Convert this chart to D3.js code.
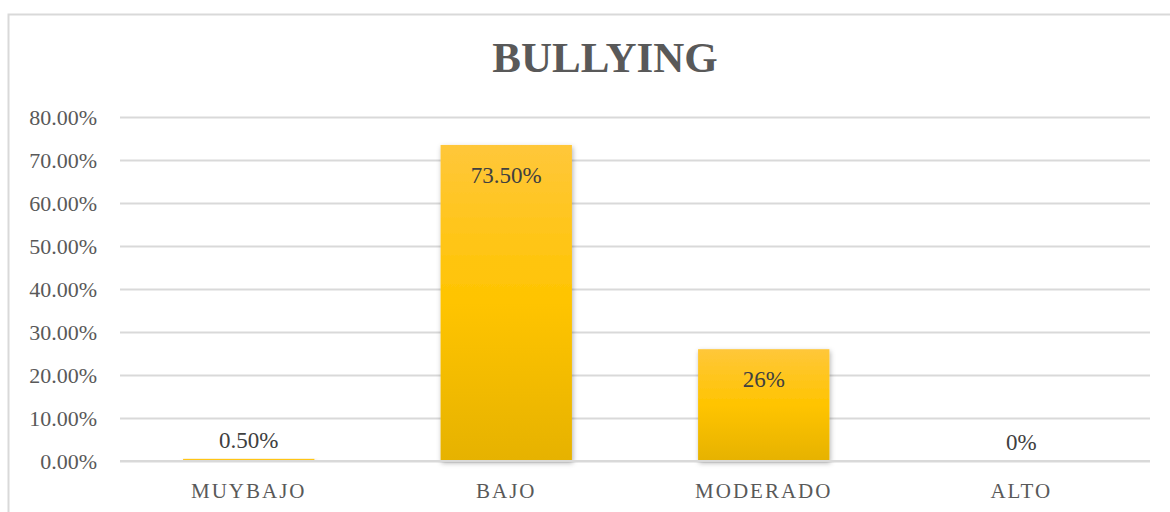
<!DOCTYPE html>
<html>
<head>
<meta charset="utf-8">
<script src="https://cdn.jsdelivr.net/npm/d3@7"></script>
<style>
  body { margin: 0; background: #fff; }
  svg { display: block; font-family: "Liberation Serif", "Times New Roman", serif; }
</style>
</head>
<body>
<svg width="1170" height="512"></svg>
<script>
    const categories = ['MUYBAJO', 'BAJO', 'MODERADO', 'ALTO']
    const values = [0.5, 73.5, 26, 0]
    const valueLabels = ['0.50%', '73.50%', '26%', '0%']
    const yTicks = [0, 10, 20, 30, 40, 50, 60, 70, 80]
    const title = 'BULLYING'

    const svg = d3.select('svg')
    const plotLeft = 120, plotRight = 1150, plotTop = 117, plotBottom = 461

    xs = d3.scaleBand().domain(categories).range([plotLeft, plotRight]).paddingInner(0.49).paddingOuter(0.245)
    ys = d3.scaleLinear().domain([0, 80]).range([plotBottom, plotTop])

    // outer frame
    svg.append('rect')
      .attr('x', 8.5).attr('y', 14.5).attr('width', 1175).attr('height', 520)
      .attr('fill', 'none').attr('stroke', '#d9d9d9').attr('stroke-width', 2)

    const defs = svg.append('defs')
    const grad = defs.append('linearGradient').attr('id', 'barFill')
      .attr('x1', 0).attr('y1', 0).attr('x2', 0).attr('y2', 1)
    grad.append('stop').attr('offset', '0%').attr('stop-color', '#ffc73a')
    grad.append('stop').attr('offset', '50%').attr('stop-color', '#ffc400')
    grad.append('stop').attr('offset', '100%').attr('stop-color', '#e6b200')
    const shadow = defs.append('filter').attr('id', 'shadow')
      .attr('x', '-20%').attr('y', '-20%').attr('width', '140%').attr('height', '140%')
    shadow.append('feDropShadow').attr('dx', 1).attr('dy', 2).attr('stdDeviation', 2.5)
      .attr('flood-color', '#000').attr('flood-opacity', 0.3)

    svg.append('text')
      .attr('x', 605).attr('y', 72)
      .attr('text-anchor', 'middle')
      .attr('font-size', 43).attr('font-weight', 'bold')
      .attr('fill', '#595959')
      .text(title)

    // y axis with gridlines
    const yAxis = svg.append('g').attr('transform', 'translate(' + plotLeft + ',0)')
      .call(d3.axisLeft(ys).tickValues(yTicks).tickSize(-(plotRight - plotLeft)).tickPadding(23)
        .tickFormat(function(d) {return d.toFixed(2) + '%'}))
    yAxis.select('.domain').remove()
    yAxis.selectAll('line').attr('stroke', '#d9d9d9').attr('stroke-width', 2)
    yAxis.selectAll('text').attr('font-size', 22).attr('fill', '#595959')
      .attr('font-family', '"Liberation Serif", serif')

    svg.append('g').selectAll('rect').data(values).enter().append('rect')
      .attr('x', function(d, i) {return xs(categories[i])})
      .attr('y', function(d) {return ys(d)})
      .attr('width', xs.bandwidth())
      .attr('height', function(d) {return plotBottom - ys(d)})
      .attr('fill', 'url(#barFill)')
      .attr('filter', 'url(#shadow)')

    // baseline
    svg.append('line')
      .attr('x1', plotLeft).attr('x2', plotRight).attr('y1', plotBottom).attr('y2', plotBottom)
      .attr('stroke', '#d9d9d9').attr('stroke-width', 2)

    svg.append('g').selectAll('text').data(values).enter().append('text')
      .attr('x', function(d, i) {return xs(categories[i]) + xs.bandwidth() / 2})
      .attr('y', function(d) {return plotBottom - ys(d) > 40 ? ys(d) + 38 : ys(d) - 11})
      .attr('text-anchor', 'middle')
      .attr('font-size', 23)
      .attr('fill', '#404040')
      .text(function(d, i) {return valueLabels[i]})

    // x axis labels
    const xAxis = svg.append('g').attr('transform', 'translate(0,' + plotBottom + ')')
      .call(d3.axisBottom(xs).tickSize(0).tickPadding(22))
    xAxis.select('.domain').remove()
    xAxis.selectAll('text').attr('font-size', 21).attr('fill', '#595959')
      .attr('font-family', '"Liberation Serif", serif')
      .attr('letter-spacing', 2)
</script>
</body>
</html>
